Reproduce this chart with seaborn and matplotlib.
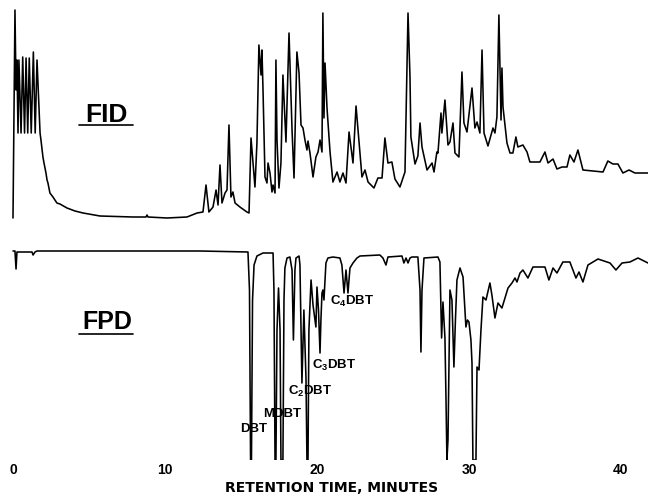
import matplotlib
matplotlib.use("Agg")
import matplotlib.pyplot as plt
import seaborn as sns
import pandas as pd

# ---------------- data ----------------
# FID trace: retention time (min) and detector response (arbitrary units above baseline)
fid_time = [0.00, 0.13, 0.20, 0.26, 0.33, 0.39, 0.53, 0.64, 0.76, 0.86, 0.97, 1.07, 1.20, 1.34, 1.46,
            1.58, 1.78, 1.84, 1.97, 2.04, 2.17, 2.24, 2.30, 2.43, 2.63, 2.89, 3.09, 3.55, 4.08, 4.61,
            5.72, 7.89, 8.75, 8.82, 8.88, 10.13, 11.45,
            12.11, 12.50, 12.70, 12.89, 13.16, 13.36, 13.49, 13.62, 13.75, 13.95, 14.08, 14.21, 14.34,
            14.47, 14.61, 14.93, 15.39, 15.53, 15.66, 15.79, 15.92, 16.05, 16.18, 16.32, 16.38, 16.45,
            16.58, 16.71, 16.78, 16.91, 17.04, 17.11, 17.24, 17.30, 17.37, 17.50, 17.63, 17.76, 17.96,
            18.16, 18.36, 18.49, 18.68, 18.82, 18.95, 19.08, 19.21, 19.34, 19.41, 19.54, 19.74, 19.93,
            20.07, 20.20, 20.33, 20.39, 20.46, 20.53, 20.66, 20.86, 21.05, 21.32, 21.51, 21.71, 21.91,
            22.11, 22.37, 22.57, 22.83, 22.96, 23.16, 23.36, 23.75, 24.01, 24.28, 24.47, 24.67, 24.93,
            25.13, 25.46, 25.79, 25.99, 26.12, 26.18, 26.45, 26.64, 26.78, 26.91, 27.24, 27.57, 27.70,
            27.89, 27.96, 28.16, 28.22, 28.42, 28.62, 28.75, 28.95, 29.08, 29.34, 29.54, 29.67, 29.87,
            30.20, 30.39, 30.53, 30.72, 30.86, 30.99, 31.25, 31.58, 31.71, 31.84, 31.97, 32.11, 32.17,
            32.24, 32.50, 32.70, 32.89, 33.09, 33.22, 33.55, 33.82, 34.01, 34.67, 35.00, 35.20, 35.53,
            35.79, 36.12, 36.45, 36.64, 36.91, 37.17, 37.50, 38.16, 38.82, 39.14, 39.47, 39.80, 40.13,
            40.53, 40.92, 41.78]
fid_response = [0, 208, 128, 158, 85, 158, 85, 161, 85, 160, 85, 160, 85, 166, 85,
                158, 85, 78, 61, 55, 45, 38, 35, 25, 21, 15, 14, 10, 7, 5,
                2, 1, 1, 3, 1, 0, 1,
                5, 6, 33, 6, 11, 28, 13, 53, 15, 25, 28, 93, 21,
                26, 15, 11, 6, 5, 80, 55, 31, 75, 173, 143, 168, 128,
                41, 35, 55, 45, 26, 33, 25, 158, 78, 30, 55, 143, 76,
                185, 88, 40, 166, 145, 93, 90, 78, 68, 77, 65, 41, 61,
                66, 78, 66, 205, 100, 155, 110, 66, 36, 46, 36, 45, 35,
                86, 55, 112, 65, 41, 48, 36, 30, 40, 40, 80, 55, 56,
                39, 31, 46, 205, 141, 81, 54, 62, 95, 71, 48, 55, 46,
                66, 65, 105, 85, 118, 73, 76, 95, 65, 61, 146, 95, 86,
                130, 90, 96, 85, 168, 85, 72, 90, 85, 101, 203, 98, 150,
                111, 75, 65, 65, 81, 71, 73, 66, 56, 56, 66, 55, 59,
                49, 51, 51, 63, 56, 68, 48, 47, 46, 57, 54, 54, 45,
                48, 45, 45]

# FPD trace: retention time (min) and downward pen deflection (arbitrary units)
fpd_time = [0.00, 0.13, 0.20, 0.26, 0.46, 1.25, 1.32, 1.45, 1.58, 5.72, 12.30, 15.46, 15.56, 15.63,
            15.69, 15.76, 15.86, 16.05, 16.45, 17.11, 17.17, 17.24, 17.30, 17.37, 17.47, 17.57, 17.63,
            17.76, 17.83, 17.89, 18.03, 18.22, 18.36, 18.45, 18.55, 18.62, 18.82, 18.88, 19.01, 19.14,
            19.28, 19.34, 19.41, 19.47, 19.61, 19.74, 19.93, 20.00, 20.10, 20.20, 20.26, 20.33, 20.39,
            20.46, 20.53, 20.59, 20.72, 21.05, 21.51, 21.64, 21.78, 21.91, 22.04, 22.17, 22.37, 22.63,
            22.83, 24.14, 24.34, 24.54, 24.67, 25.59, 25.72, 25.86, 25.99, 26.12, 26.25, 26.64, 26.78,
            26.84, 26.91, 27.04, 27.96, 28.09, 28.20, 28.29, 28.42, 28.49, 28.55, 28.62, 28.75, 28.88,
            29.01, 29.11, 29.21, 29.41, 29.61, 29.80, 29.90, 30.00, 30.13, 30.20, 30.26, 30.46, 30.53,
            30.66, 30.79, 30.92, 31.12, 31.38, 31.51, 31.71, 31.91, 32.17, 32.37, 32.57, 32.83, 33.03,
            33.16, 33.36, 33.55, 33.88, 34.21, 35.00, 35.26, 35.53, 35.79, 36.18, 36.64, 37.04, 37.24,
            37.50, 37.83, 38.49, 39.28, 39.67, 40.07, 40.59, 41.12, 41.78]
fpd_deflection = [-1, -1, 17, 0, 0, 0, 3, 0, -1, -1, -1, 0, 38, 208,
                  208, 48, 13, 4, 1, 1, 38, 208, 208, 78, 36, 78, 208,
                  208, 48, 16, 6, 5, 18, 88, 18, 6, 4, 13, 131, 58,
                  128, 208, 208, 78, 28, 53, 75, 35, 58, 101, 68, 41, 38,
                  48, 28, 11, 6, 5, 6, 13, 41, 18, 41, 16, 11, 6,
                  4, 3, 6, 13, 5, 4, 11, 6, 11, 6, 5, 5, 38,
                  100, 38, 6, 5, 10, 86, 50, 86, 148, 208, 188, 38, 48,
                  115, 68, 28, 16, 25, 75, 68, 70, 88, 111, 208, 208, 115,
                  118, 78, 45, 48, 31, 43, 66, 51, 56, 46, 36, 31, 26,
                  30, 21, 18, 26, 15, 15, 28, 16, 21, 10, 10, 26, 20,
                  30, 13, 7, 11, 18, 11, 10, 6, 11]

tick_minutes = [0, 10, 20, 30, 40]
tick_labels = ["0", "10", "20", "30", "40"]
x_label = "RETENTION TIME, MINUTES"
peak_names = ["DBT", "MDBT", r"C$_2$DBT", r"C$_3$DBT", r"C$_4$DBT"]
peak_label_time = [14.93, 16.45, 18.09, 19.67, 20.86]

# ---------------- layout ----------------
FID_BASE = 242
FPD_BASE = 208
peak_label_y = [28, 43, 65, 91, 155]

sns.set_theme(style="white")
plt.rcParams["font.family"] = ["Liberation Sans", "DejaVu Sans"]
plt.rcParams["mathtext.fontset"] = "custom"
plt.rcParams["mathtext.rm"] = "Liberation Sans:bold"
plt.rcParams["mathtext.default"] = "rm"

fig = plt.figure(figsize=(6.48, 4.94), dpi=100)
ax = fig.add_axes([0, 34 / 494, 1, 460 / 494])

fid_df = pd.DataFrame({"time": fid_time,
                       "signal": [FID_BASE + v for v in fid_response]})
fpd_df = pd.DataFrame({"time": fpd_time,
                       "signal": [FPD_BASE - v for v in fpd_deflection]})

sns.lineplot(data=fid_df, x="time", y="signal", ax=ax, color="black",
             linewidth=1.15, estimator=None, sort=False)
sns.lineplot(data=fpd_df, x="time", y="signal", ax=ax, color="black",
             linewidth=1.15, estimator=None, sort=False)

ax.set_xlim(-0.855, 41.78)
ax.set_ylim(0, 460)

# detector titles with underline
ax.text(6.15, 338, "FID", ha="center", va="baseline", fontsize=19,
        fontweight="bold", color="black")
ax.plot([4.34, 7.89], [335, 335], color="black", lw=1.2)
ax.text(6.22, 131, "FPD", ha="center", va="baseline", fontsize=18,
        fontweight="bold", color="black")
ax.plot([4.34, 7.89], [126, 126], color="black", lw=1.2)

for name, t, y in zip(peak_names, peak_label_time, peak_label_y):
    ax.text(t, y, name, ha="left", va="baseline", fontsize=9.5,
            fontweight="bold", color="black")

ax.set_xticks(tick_minutes)
ax.set_xticklabels(tick_labels, fontsize=10, fontweight="bold")
ax.tick_params(axis="x", length=0, pad=2.5, colors="black")
ax.set_yticks([])
ax.set_ylabel("")
ax.set_xlabel(x_label, fontsize=10, fontweight="bold", color="black",
              family=["DejaVu Sans"])
ax.xaxis.set_label_coords(0.511, -0.045)
for s in ax.spines.values():
    s.set_visible(False)
ax.grid(False)

fig.savefig("out.png", dpi=100, facecolor="white")
